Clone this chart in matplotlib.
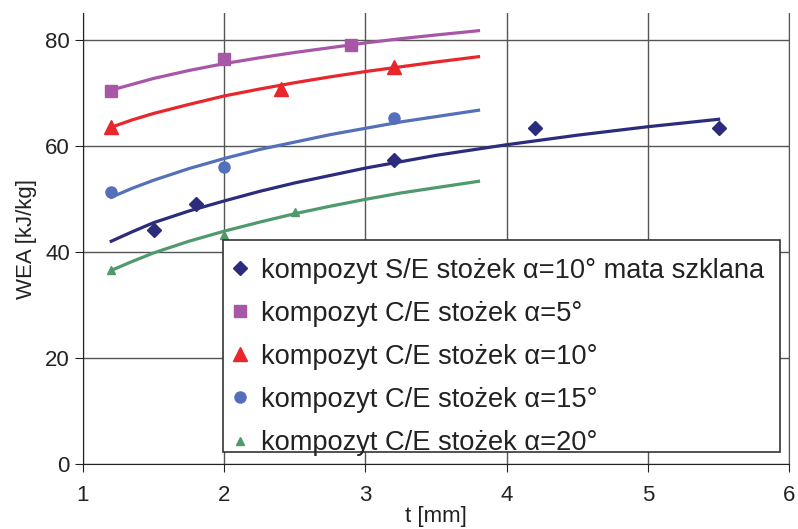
import matplotlib.pyplot as plt
from matplotlib.patches import Rectangle

plt.rcParams['font.family'] = ['Liberation Sans', 'DejaVu Sans']

# measured points
se10_t = [1.5, 1.8, 3.2, 4.2, 5.5]
se10_wea = [44.2, 49.0, 57.3, 63.3, 63.3]
ce5_t = [1.2, 2.0, 2.9]
ce5_wea = [70.3, 76.3, 79.0]
ce10_t = [1.2, 2.4, 3.2]
ce10_wea = [63.6, 70.8, 74.9]
ce15_t = [1.2, 2.0, 3.2]
ce15_wea = [51.3, 56.0, 65.2]
ce20_t = [1.2, 2.0, 2.5]
ce20_wea = [36.6, 43.2, 47.5]

# trend lines
se10_fit_t = [1.2, 1.35, 1.5, 1.75, 2.0, 2.25, 2.5, 2.75, 3.0, 3.25, 3.5, 3.75,
              4.0, 4.25, 4.5, 4.75, 5.0, 5.25, 5.5]
se10_fit_wea = [42.0, 43.8, 45.5, 47.7, 49.6, 51.4, 53.0, 54.4, 55.8, 57.0, 58.2,
                59.2, 60.2, 61.1, 62.0, 62.8, 63.6, 64.3, 65.0]
ce_fit_t = [1.2, 1.35, 1.5, 1.75, 2.0, 2.25, 2.5, 2.75, 3.0, 3.25, 3.5, 3.8]
ce5_fit_wea = [70.5, 71.6, 72.7, 74.2, 75.5, 76.6, 77.6, 78.5, 79.4, 80.2, 80.9, 81.7]
ce10_fit_wea = [63.5, 64.9, 66.1, 67.8, 69.4, 70.7, 71.9, 73.0, 74.0, 74.9, 75.8, 76.8]
ce15_fit_wea = [50.3, 52.0, 53.5, 55.7, 57.6, 59.3, 60.7, 62.1, 63.3, 64.5, 65.5, 66.7]
ce20_fit_wea = [36.5, 38.2, 39.8, 42.0, 43.9, 45.6, 47.2, 48.6, 49.9, 51.1, 52.1, 53.3]

labels = ["kompozyt S/E stożek α=10° mata szklana",
          "kompozyt C/E stożek α=5°",
          "kompozyt C/E stożek α=10°",
          "kompozyt C/E stożek α=15°",
          "kompozyt C/E stożek α=20°"]

navy = '#2b2c7c'
magenta = '#a857a8'
red = '#e8262b'
blue = '#5470ba'
green = '#4f9a6c'

fig = plt.figure(figsize=(7.98, 5.29), dpi=100)
ax = fig.add_axes([0.104, 0.123, 0.885, 0.852])

lw = 2.3
ax.plot(se10_fit_t, se10_fit_wea, color=navy, lw=lw)
ax.plot(ce_fit_t, ce5_fit_wea, color=magenta, lw=lw)
ax.plot(ce_fit_t, ce10_fit_wea, color=red, lw=lw)
ax.plot(ce_fit_t, ce15_fit_wea, color=blue, lw=lw)
ax.plot(ce_fit_t, ce20_fit_wea, color=green, lw=lw)

ax.plot(se10_t, se10_wea, 'D', color=navy, ms=7, ls='none', label=labels[0])
ax.plot(ce5_t, ce5_wea, 's', color=magenta, ms=8, ls='none', label=labels[1])
ax.plot(ce10_t, ce10_wea, '^', color=red, ms=10, ls='none', label=labels[2])
ax.plot(ce15_t, ce15_wea, 'o', color=blue, ms=8, ls='none', label=labels[3])
ax.plot(ce20_t, ce20_wea, '^', color=green, ms=6, ls='none', label=labels[4])

ax.set_xlim(1, 6)
ax.set_ylim(0, 85)
ax.set_xticks([1, 2, 3, 4, 5, 6])
ax.set_yticks([0, 20, 40, 60, 80])
ax.grid(True, color='#555555', lw=1)
ax.set_axisbelow(True)
ax.spines['top'].set_visible(False)
ax.spines['right'].set_color('#555555')
ax.spines['left'].set_color('#222222')
ax.spines['bottom'].set_color('#222222')
ax.tick_params(labelsize=16, direction='out', length=6, color='#222222', labelcolor='#222222')
ax.tick_params(axis='x', pad=9)
ax.set_xlabel('t [mm]', fontsize=16, color='#222222', labelpad=0)
ax.set_ylabel('WEA [kJ/kg]', fontsize=16, color='#222222', labelpad=6)

# legend box drawn separately so the entries sit a bit low inside it
ax.add_patch(Rectangle((0.198, 0.027), 0.789, 0.470, transform=ax.transAxes,
                       facecolor='white', edgecolor='#333333', lw=1.2, zorder=4))
leg = ax.legend(loc='upper left', bbox_to_anchor=(0.188, 0.490), fontsize=19.6,
                frameon=False, handlelength=0.7, handletextpad=0.45,
                labelspacing=0.63, borderpad=0.53, borderaxespad=0)
for t in leg.get_texts():
    t.set_color('#222222')

fig.savefig('out.png', dpi=100)
